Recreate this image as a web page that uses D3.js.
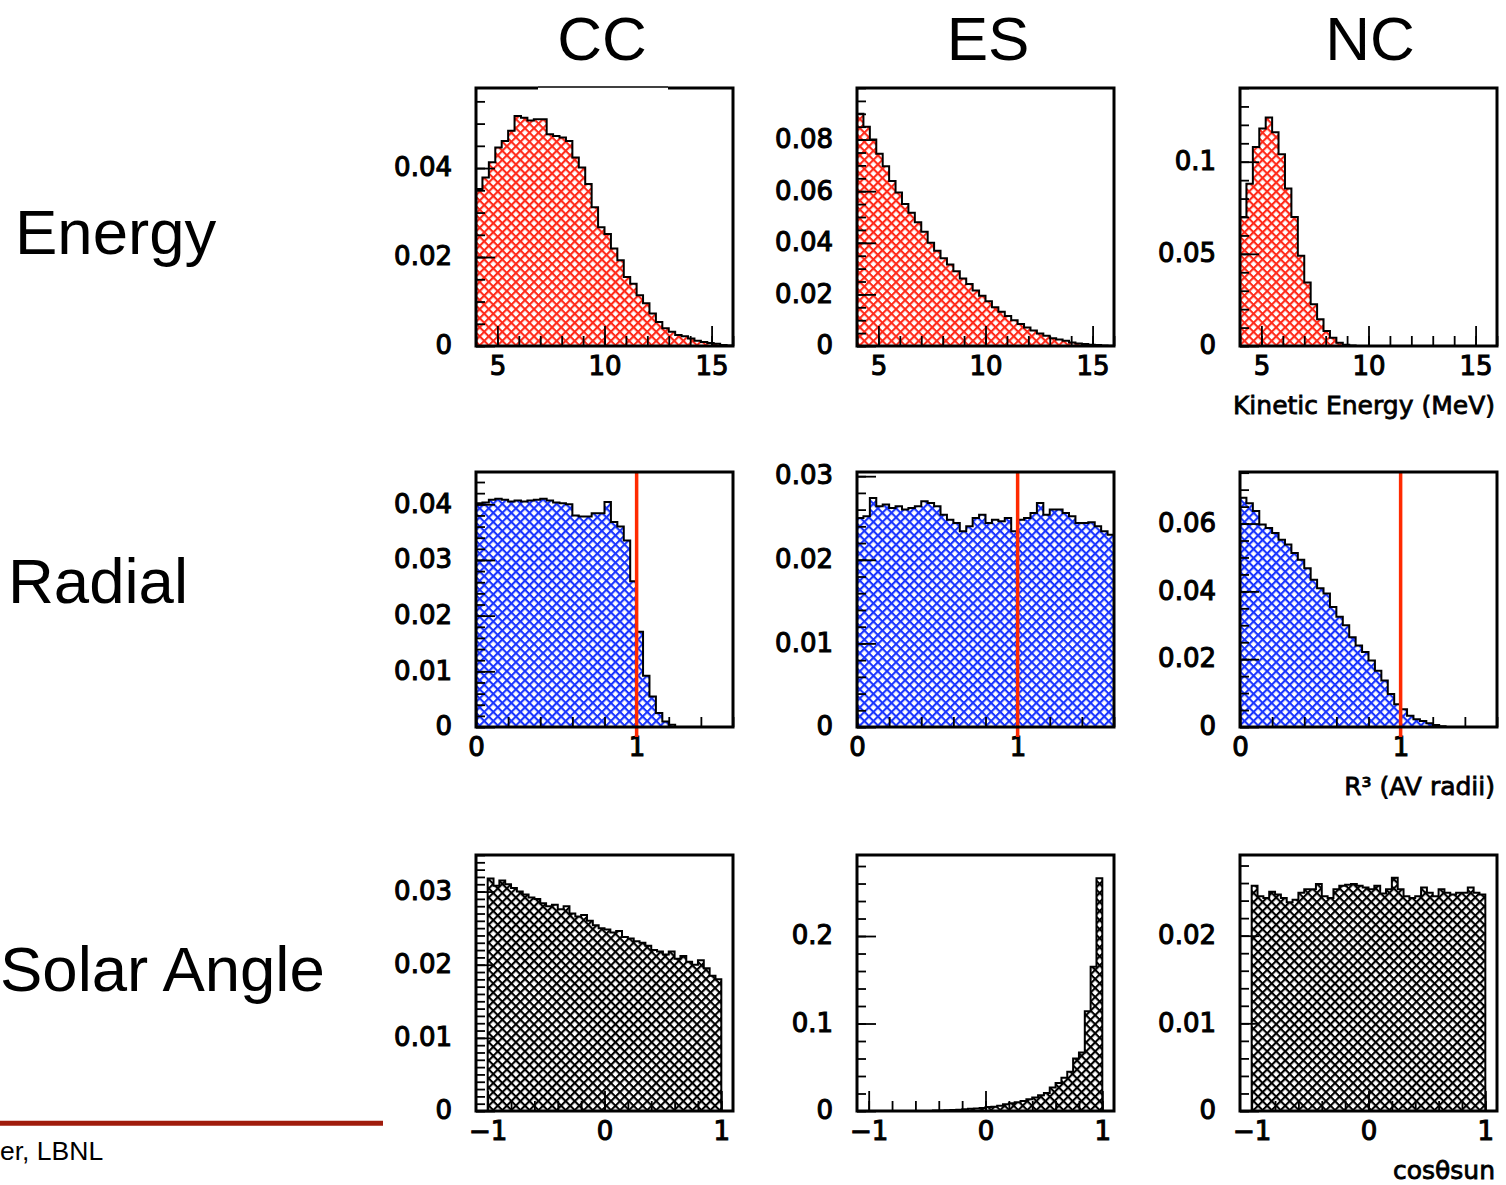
<!DOCTYPE html>
<html><head><meta charset="utf-8">
<script src="https://cdn.jsdelivr.net/npm/d3@7"></script>
<style>
body{margin:0;background:#fff;}
svg{display:block;}
</style></head><body>
<svg id="chart" width="1506" height="1185"></svg>
<script>
// ---------------- data ----------------
const columnTitles = ["CC", "ES", "NC"];
const rowTitles = ["Energy", "Radial", "Solar Angle"];

// 40 bins each
const energyRange = [4, 16];
const radialRange = [0, 1.6];
const solarRange = [-1, 1];

const ccEnergy = [0.0353,0.0379,0.0413,0.0446,0.0461,0.0484,0.0517,0.0513,0.0507,0.0510,
  0.0510,0.0476,0.0472,0.0469,0.0461,0.0424,0.0401,0.0364,0.0312,0.0267,
  0.0252,0.0219,0.0193,0.0155,0.0140,0.0114,0.0096,0.0073,0.0054,0.0040,
  0.0032,0.0025,0.0022,0.0017,0.0012,0.0009,0.0007,0.0005,0.0002,0.0001];
const esEnergy = [0.0900,0.0850,0.0800,0.0745,0.0697,0.0640,0.0595,0.0550,0.0516,0.0480,
  0.0443,0.0400,0.0369,0.0340,0.0316,0.0290,0.0262,0.0240,0.0215,0.0195,
  0.0173,0.0150,0.0133,0.0116,0.0100,0.0085,0.0072,0.0060,0.0048,0.0040,
  0.0030,0.0025,0.0020,0.0014,0.0010,0.0008,0.0005,0.0004,0.0002,0.0001];
const ncEnergy = [0.070,0.088,0.108,0.118,0.124,0.116,0.104,0.0855,0.070,0.049,
  0.0345,0.0227,0.0145,0.0082,0.0045,0.0018,0.0007,0.0003,0,0,
  0,0,0,0,0,0,0,0,0,0,
  0,0,0,0,0,0,0,0,0,0];

const ccRadial = [0.0402,0.0403,0.0408,0.0410,0.0408,0.0405,0.0407,0.0405,0.0407,0.0408,
  0.0410,0.0407,0.0403,0.0402,0.0400,0.0380,0.0378,0.0378,0.0384,0.0384,
  0.0404,0.0368,0.0360,0.0335,0.0262,0.0171,0.0092,0.0055,0.0025,0.0010,
  0.0004,0,0,0,0,0,0,0,0,0];
const esRadial = [0.0250,0.0252,0.0274,0.0264,0.0266,0.0262,0.0264,0.0260,0.0262,0.0264,
  0.0270,0.0268,0.0264,0.0254,0.0248,0.0244,0.0234,0.0240,0.0250,0.0254,
  0.0244,0.0248,0.0246,0.0250,0.0234,0.0248,0.0250,0.0256,0.0268,0.0254,
  0.0260,0.0260,0.0256,0.0252,0.0244,0.0244,0.0245,0.0240,0.0234,0.0230];
const ncRadial = [0.0676,0.0660,0.0637,0.0597,0.0587,0.0572,0.0552,0.0538,0.0513,0.0493,
  0.0468,0.0434,0.0409,0.0394,0.0354,0.0325,0.0300,0.0265,0.0240,0.0221,
  0.0196,0.0166,0.0137,0.0097,0.0067,0.0052,0.0033,0.0023,0.0018,0.0011,
  0.0006,0.0002,0,0,0,0,0,0,0,0];

const ccSolar = [0.0318,0.0308,0.0315,0.0310,0.0305,0.0300,0.0296,0.0292,0.0290,0.0284,
  0.0280,0.0282,0.0276,0.0280,0.0270,0.0266,0.0268,0.0260,0.0254,0.0250,
  0.0248,0.0244,0.0246,0.0238,0.0236,0.0232,0.0230,0.0226,0.0220,0.0218,
  0.0214,0.0218,0.0208,0.0212,0.0204,0.0200,0.0206,0.0195,0.0185,0.0180];
const esSolar = [0,0,0,0,0,0,0,0,0,0,
  0,0.0005,0.0007,0.0010,0.0012,0.0015,0.0020,0.0025,0.0030,0.0035,
  0.0045,0.0050,0.0060,0.0078,0.0090,0.0100,0.0115,0.0135,0.0155,0.0180,
  0.0205,0.0270,0.0320,0.0380,0.0450,0.0600,0.0670,0.1140,0.1650,0.2660];
const ncSolar = [0.0257,0.0245,0.0243,0.0250,0.0247,0.0243,0.0238,0.0241,0.0249,0.0253,
  0.0253,0.0259,0.0245,0.0243,0.0253,0.0257,0.0258,0.0259,0.0257,0.0255,
  0.0253,0.0257,0.0248,0.0253,0.0266,0.0253,0.0245,0.0243,0.0245,0.0255,
  0.0249,0.0245,0.0253,0.0249,0.0247,0.0249,0.0249,0.0255,0.0249,0.0247];

// axis domains and tick labels
const energyXDomain = [4, 16];
const radialXDomain = [0, 1.6];
const solarXDomain = [-1.1, 1.1];
const energyXTicks = [5, 10, 15];
const energyXLabels = ["5", "10", "15"];
const radialXTicks = [0, 1];
const radialXLabels = ["0", "1"];
const solarXTicks = [-1, 0, 1];
const solarXLabels = ["\u22121", "0", "1"];

const yMaxes = [[0.058, 0.1, 0.14], [0.0458, 0.0305, 0.0752], [0.035, 0.2926, 0.0292]];
const yTicks = [
  [[0, 0.02, 0.04], [0, 0.02, 0.04, 0.06, 0.08], [0, 0.05, 0.1]],
  [[0, 0.01, 0.02, 0.03, 0.04], [0, 0.01, 0.02, 0.03], [0, 0.02, 0.04, 0.06]],
  [[0, 0.01, 0.02, 0.03], [0, 0.1, 0.2], [0, 0.01, 0.02]]
];
const yTickLabels = [
  [["0", "0.02", "0.04"], ["0", "0.02", "0.04", "0.06", "0.08"], ["0", "0.05", "0.1"]],
  [["0", "0.01", "0.02", "0.03", "0.04"], ["0", "0.01", "0.02", "0.03"], ["0", "0.02", "0.04", "0.06"]],
  [["0", "0.01", "0.02", "0.03"], ["0", "0.1", "0.2"], ["0", "0.01", "0.02"]]
];
const yMinorSteps = [[0.005, 0.005, 0.01], [0.002, 0.002, 0.005], [0.001, 0.02, 0.002]];
const axisTitles = ["Kinetic Energy (MeV)", "R\u00b3 (AV radii)", "cos\u03b8sun"];
const cutValue = 1; // red line in radial plots

// ---------------- layout ----------------
const colX = [476, 857, 1240];
const frameW = 257;
const rowTop = [88, 472, 855];
const rowBot = [346, 727, 1111];
const svg = d3.select("#chart");
const defs = svg.append("defs");

function hatch(id, color) {
  const s = 6.4, lw = 2.1;
  const p = defs.append("pattern").attr("id", id).attr("patternUnits", "userSpaceOnUse")
    .attr("width", s).attr("height", s).attr("patternTransform", "rotate(45)");
  p.append("rect").attr("width", s).attr("height", s).attr("fill", "#fff");
  p.append("rect").attr("width", lw).attr("height", s).attr("fill", color);
  p.append("rect").attr("width", s).attr("height", lw).attr("fill", color);
}
hatch("hatchRed", "#ff2a1a");
hatch("hatchBlue", "#1a35ff");
hatch("hatchBlack", "#000");

const rowData = [
  {series: [ccEnergy, esEnergy, ncEnergy], range: energyRange, xDom: energyXDomain, xT: energyXTicks, xL: energyXLabels, xMinor: 1, fill: "url(#hatchRed)"},
  {series: [ccRadial, esRadial, ncRadial], range: radialRange, xDom: radialXDomain, xT: radialXTicks, xL: radialXLabels, xMinor: 0.2, fill: "url(#hatchBlue)"},
  {series: [ccSolar, esSolar, ncSolar], range: solarRange, xDom: solarXDomain, xT: solarXTicks, xL: solarXLabels, xMinor: 0.2, fill: "url(#hatchBlack)"}
];

const tickFont = "'DejaVu Sans', sans-serif";

rowData.forEach((rd, r) => {
  rd.series.forEach((vals, c) => {
    const x0 = colX[c], x1 = colX[c] + frameW, y0 = rowTop[r], y1 = rowBot[r];
    const x = d3.scaleLinear().domain(rd.xDom).range([x0, x1]);
    const y = d3.scaleLinear().domain([0, yMaxes[r][c]]).range([y1, y0]);
    const n = vals.length;
    const bw = (rd.range[1] - rd.range[0]) / n;
    const pts = vals.map((v, i) => [rd.range[0] + i * bw, v]);
    const fillPts = pts.concat([[rd.range[1], vals[n - 1]]]);
    const linePts = [[rd.range[0], 0]].concat(pts, [[rd.range[1], vals[n - 1]], [rd.range[1], 0]]);

    const clipId = `clip${r}${c}`;
    defs.append("clipPath").attr("id", clipId).append("rect")
      .attr("x", x0).attr("y", y0).attr("width", frameW).attr("height", y1 - y0);
    const g = svg.append("g");
    const inner = g.append("g").attr("clip-path", `url(#${clipId})`);

    const area = d3.area().curve(d3.curveStepAfter)
      .x(d => x(d[0])).y0(y(0)).y1(d => y(d[1]));
    inner.append("path").datum(fillPts).attr("d", area).attr("fill", rd.fill);
    const line = d3.line().curve(d3.curveStepAfter).x(d => x(d[0])).y(d => y(d[1]));
    inner.append("path").datum(linePts).attr("d", line)
      .attr("fill", "none").attr("stroke", "#000").attr("stroke-width", 2);

    // minor ticks
    const yMinor = d3.range(0, Math.round(yMaxes[r][c] / yMinorSteps[r][c]) + 1)
      .map(k => +(k * yMinorSteps[r][c]).toFixed(6)).filter(v => v <= yMaxes[r][c]);
    const yMinAxis = d3.axisLeft(y).tickValues(yMinor).tickSize(-9).tickFormat("");
    const gy1 = g.append("g").attr("transform", `translate(${x0},0)`).call(yMinAxis);
    const xMinorVals = d3.range(Math.ceil(rd.xDom[0] / rd.xMinor - 1e-6), Math.floor(rd.xDom[1] / rd.xMinor + 1e-6) + 1)
      .map(k => +(k * rd.xMinor).toFixed(6));
    const xMinAxis = d3.axisBottom(x).tickValues(xMinorVals).tickSize(-10).tickFormat("");
    const gx1 = g.append("g").attr("transform", `translate(0,${y1})`).call(xMinAxis);

    // major ticks + labels
    const labs = yTickLabels[r][c];
    const yAxis = d3.axisLeft(y).tickValues(yTicks[r][c]).tickSizeInner(-19).tickSizeOuter(0)
      .tickPadding(24).tickFormat((d, i) => labs[i]);
    const gy = g.append("g").attr("transform", `translate(${x0},0)`).call(yAxis);
    const xAxis = d3.axisBottom(x).tickValues(rd.xT).tickSizeInner(-20).tickSizeOuter(0)
      .tickPadding(11).tickFormat((d, i) => rd.xL[i]);
    const gx = g.append("g").attr("transform", `translate(0,${y1})`).call(xAxis);

    [gy1, gx1, gy, gx].forEach(a => {
      a.select(".domain").remove();
      a.selectAll(".tick line").attr("stroke", "#000").attr("stroke-width", 1.8);
      a.attr("font-family", tickFont).attr("font-size", 26);
      a.selectAll("text").attr("fill", "#000").attr("stroke", "#000").attr("stroke-width", 1.1);
    });
    gy.selectAll("text").attr("dy", "0.30em");

    // red cut line for radial
    if (r === 1) {
      g.append("line").attr("x1", x(cutValue)).attr("x2", x(cutValue))
        .attr("y1", y0).attr("y2", y1 + 10)
        .attr("stroke", "#ff2a00").attr("stroke-width", 3.5);
    }

    // frame
    g.append("rect").attr("x", x0).attr("y", y0).attr("width", frameW).attr("height", y1 - y0)
      .attr("fill", "none").attr("stroke", "#000").attr("stroke-width", 3);
    if (r === 0 && c === 0) {
      // slide artifact: thinner top border under the CC title box
      g.append("rect").attr("x", 538).attr("y", y0 - 2).attr("width", 130).attr("height", 4).attr("fill", "#fff");
      g.append("line").attr("x1", 538).attr("x2", 668).attr("y1", y0 - 1).attr("y2", y0 - 1)
        .attr("stroke", "#000").attr("stroke-width", 1.3);
    }
  });
  // axis title on NC column
  svg.append("text").attr("x", 1495).attr("y", rowBot[r] + 68)
    .attr("text-anchor", "end").attr("font-family", tickFont).attr("font-size", 25)
    .attr("fill", "#000").attr("stroke", "#000").attr("stroke-width", 0.8)
    .text(axisTitles[r]);
});

// column titles
const colCenters = [602, 988, 1370];
columnTitles.forEach((t, i) => {
  svg.append("text").attr("x", colCenters[i]).attr("y", 60).attr("text-anchor", "middle")
    .attr("font-family", "'Liberation Sans', Arial, sans-serif").attr("font-size", 62)
    .attr("fill", "#000").text(t);
});
// row titles
const rowTitleX = [15, 8, 0];
const rowTitleY = [254, 603, 991];
rowTitles.forEach((t, i) => {
  svg.append("text").attr("x", rowTitleX[i]).attr("y", rowTitleY[i])
    .attr("font-family", "'Liberation Sans', Arial, sans-serif").attr("font-size", 63.5)
    .attr("fill", "#000").text(t);
});

// footer
svg.append("line").attr("x1", 0).attr("x2", 383).attr("y1", 1123.3).attr("y2", 1123.3)
  .attr("stroke", "#a01c0c").attr("stroke-width", 5);
svg.append("text").attr("x", 0).attr("y", 1160)
  .attr("font-family", "'Liberation Sans', Arial, sans-serif").attr("font-size", 26.5)
  .attr("fill", "#000").text("er, LBNL");
</script></body></html>
